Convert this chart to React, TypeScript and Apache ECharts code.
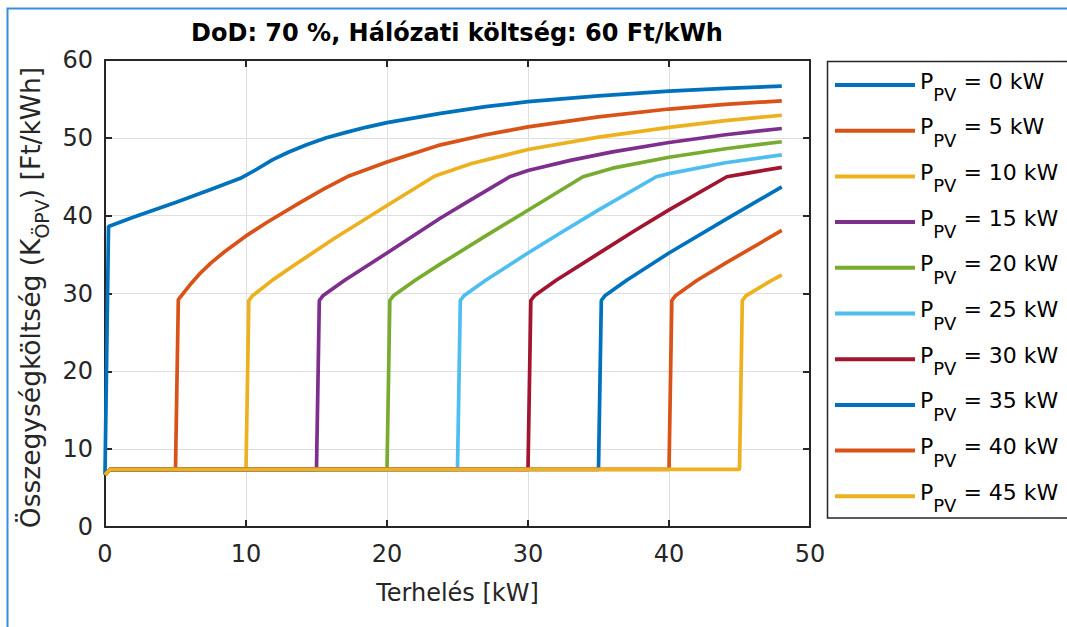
import { useEffect, useRef } from "react";
import * as echarts from "echarts";

type Pt = [number, number];

// Installed PV power for each curve [kW]
const pvSizes = [0, 5, 10, 15, 20, 25, 30, 35, 40, 45];

const lineColors = [
  "#0072BD", "#D95319", "#EDB120", "#7E2F8E", "#77AC30",
  "#4DBEEE", "#A2142F", "#0072BD", "#D95319", "#EDB120",
];

// Unit cost [Ft/kWh] against load [kW], one list per PV size
const costPv0: Pt[] = [[0, 6.7], [0.25, 38.6], [2, 39.8], [5, 41.7], [7.5, 43.35], [9.6, 44.8], [10.7, 45.9], [11.9, 47.2], [13, 48.15], [14.3, 49.1], [15.7, 50.0], [17.1, 50.7], [18.5, 51.35], [20, 51.95], [23.8, 53.15], [27, 54.0], [30, 54.65], [35, 55.4], [40, 56.0], [44, 56.35], [48, 56.65]];
const costPv5: Pt[] = [[0, 6.7], [0.35, 7.4], [5, 7.4], [5.2, 29.2], [5.45, 29.8], [6, 31.05], [6.75, 32.6], [7.5, 33.9], [8.5, 35.4], [10, 37.4], [11.5, 39.15], [13.8, 41.65], [15.5, 43.4], [17.3, 45.1], [20, 46.9], [23.8, 49.1], [27, 50.4], [30, 51.4], [35, 52.7], [40, 53.7], [44, 54.3], [48, 54.75]];
const costPv10: Pt[] = [[0, 6.7], [0.35, 7.4], [10, 7.4], [10.2, 29.1], [10.45, 29.7], [11.9, 31.75], [13.8, 34.1], [16.2, 37.0], [20, 41.3], [23.4, 45.1], [26, 46.7], [30, 48.5], [35, 50.1], [40, 51.35], [44, 52.2], [48, 52.9]];
const costPv15: Pt[] = [[0, 6.7], [0.35, 7.4], [15, 7.4], [15.2, 29.1], [15.45, 29.7], [17, 31.7], [20, 35.2], [23.8, 39.7], [26, 42.1], [28.7, 45.0], [30, 45.8], [33, 47.1], [36, 48.2], [40, 49.4], [44, 50.4], [48, 51.2]];
const costPv20: Pt[] = [[0, 6.7], [0.35, 7.4], [20, 7.4], [20.2, 29.1], [20.45, 29.7], [22, 31.7], [23.8, 33.8], [27, 37.4], [30, 40.7], [33.9, 45.0], [36, 46.1], [40, 47.5], [44, 48.6], [48, 49.5]];
const costPv25: Pt[] = [[0, 6.7], [0.35, 7.4], [25, 7.4], [25.2, 29.1], [25.45, 29.7], [27, 31.7], [30, 35.2], [32.5, 38.0], [35.1, 40.85], [39.1, 45.0], [40, 45.4], [44, 46.8], [48, 47.8]];
const costPv30: Pt[] = [[0, 6.7], [0.35, 7.4], [30, 7.4], [30.2, 29.1], [30.45, 29.7], [32, 31.7], [35.1, 35.25], [37.5, 38.0], [40, 40.75], [44.1, 45.0], [46, 45.6], [48, 46.2]];
const costPv35: Pt[] = [[0, 6.7], [0.35, 7.4], [35, 7.4], [35.2, 29.1], [35.45, 29.7], [37, 31.7], [40, 35.2], [44, 39.5], [48, 43.7]];
const costPv40: Pt[] = [[0, 6.7], [0.35, 7.4], [40, 7.4], [40.2, 29.1], [40.45, 29.7], [42, 31.7], [44.1, 34.0], [48, 38.1]];
const costPv45: Pt[] = [[0, 6.7], [0.35, 7.4], [45, 7.4], [45.2, 29.1], [45.45, 29.7], [47, 31.4], [48, 32.4]];

const curves = [costPv0, costPv5, costPv10, costPv15, costPv20, costPv25, costPv30, costPv35, costPv40, costPv45];

const titleText = "DoD: 70 %, Hálózati költség: 60 Ft/kWh";
const xName = "Terhelés [kW]";

const FONT = "'DejaVu Sans', 'Liberation Sans', sans-serif";
const INK = "#262626";
const GRID = "#dfdfdf";

const seriesName = (p: number) => `P_PV = ${p} kW`;

export default function App() {
  const ref = useRef<HTMLDivElement>(null);

  useEffect(() => {
    const chart = echarts.init(ref.current!, null, { renderer: "svg" });

    const boxAxis = {
      type: "value" as const,
      min: 0,
      axisLine: { show: true, onZero: false, lineStyle: { color: INK, width: 2 } },
      axisTick: { show: true, inside: true, length: 7, lineStyle: { color: INK, width: 2 } },
      axisLabel: { show: false },
      splitLine: { show: false },
    };

    chart.setOption({
      animation: false,
      backgroundColor: "#ffffff",
      title: {
        text: titleText,
        left: 457,
        top: 21,
        padding: 0,
        textAlign: "center",
        textStyle: { fontFamily: FONT, fontSize: 24, fontWeight: "bold", color: "#000" },
      },
      grid: { left: 105, right: 257, top: 60, bottom: 100, containLabel: false },
      xAxis: [
        {
          ...boxAxis,
          position: "bottom",
          max: 50,
          interval: 10,
          axisLabel: { show: true, fontFamily: FONT, fontSize: 24, color: INK, margin: 15 },
          splitLine: { show: true, lineStyle: { color: GRID, width: 1 } },
          name: xName,
          nameLocation: "middle",
          nameGap: 54,
          nameTextStyle: { fontFamily: FONT, fontSize: 24, color: INK },
        },
        { ...boxAxis, position: "top", max: 50, interval: 10 },
      ],
      yAxis: [
        {
          ...boxAxis,
          position: "left",
          max: 60,
          interval: 10,
          axisLabel: { show: true, fontFamily: FONT, fontSize: 24, color: INK, margin: 12 },
          splitLine: { show: true, lineStyle: { color: GRID, width: 1 } },
          name: "{a|Összegységköltség (K}{s|ÖPV}{a|) [Ft/kWh]}",
          nameLocation: "middle",
          nameGap: 50,
          nameTextStyle: {
            padding: [0, 8, 0, 0],
            rich: {
              a: { fontFamily: FONT, fontSize: 26.5, color: INK, lineHeight: 42 },
              s: { fontFamily: FONT, fontSize: 19, color: INK, lineHeight: 42, verticalAlign: "bottom" },
            },
          },
        },
        { ...boxAxis, position: "right", max: 60, interval: 10 },
      ],
      legend: {
        orient: "vertical",
        left: 835,
        top: 70,
        padding: 0,
        itemWidth: 80,
        itemHeight: 4,
        itemGap: 12.2,
        icon: "rect",
        selectedMode: false,
        data: pvSizes.map(seriesName),
        formatter: (name: string) => {
          const p = pvSizes[pvSizes.map(seriesName).indexOf(name)];
          return `{p|P}{s|PV}{p| = ${p} kW}`;
        },
        textStyle: {
          rich: {
            p: { fontFamily: FONT, fontSize: 22, color: "#000", lineHeight: 37, padding: [0, 0, 8, 0] },
            s: { fontFamily: FONT, fontSize: 18, color: "#000", lineHeight: 37, verticalAlign: "bottom" },
          },
        },
      },
      graphic: [
        {
          type: "rect",
          silent: true,
          shape: { x: 827.5, y: 61.5, width: 300, height: 456.5 },
          style: { fill: "none", stroke: INK, lineWidth: 1.5 },
          z: -1,
        },
        {
          type: "rect",
          silent: true,
          shape: { x: 7.5, y: 8.5, width: 1200, height: 800 },
          style: { fill: "none", stroke: "#3a8dd8", lineWidth: 2 },
        },
      ],
      series: curves.map((pts, i) => ({
        type: "line",
        name: seriesName(pvSizes[i]),
        data: pts,
        showSymbol: false,
        symbol: "none",
        clip: false,
        color: lineColors[i],
        lineStyle: { width: 3.7, color: lineColors[i] },
        emphasis: { disabled: true },
        xAxisIndex: 0,
        yAxisIndex: 0,
      })),
    });

    return () => chart.dispose();
  }, []);

  return (
    <div
      ref={ref}
      style={{ position: "fixed", left: 0, top: 0, width: 1067, height: 627, background: "#fff" }}
    />
  );
}
